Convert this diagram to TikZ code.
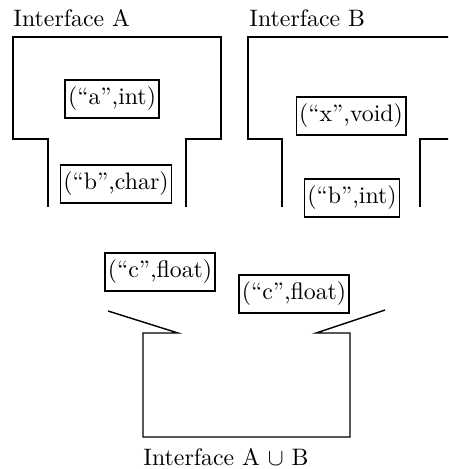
\documentclass[tikz,border=0pt]{standalone}
\usepackage{amssymb}
\begin{document}
\begin{tikzpicture}[x=0.42pt,y=-0.42pt,
  outline/.style={line width=0.6pt,line join=miter},
  pair/.style={draw,line width=0.6pt,inner xsep=1.2pt,inner ysep=3pt},
  title/.style={inner sep=0pt,anchor=base west}]
\clip (0,0) rectangle (448,469);
% titles
\node[title] (tA) at (13,27) {Interface A};
\node[title] (tB) at (249,27) {Interface B};
\node[title] (tU) at (143,465) {Interface A $\cup$ B};
% interface A outline
\draw[outline] (48,207) -- (48,139) -- (13,139) -- (13,37) -- (221,37) -- (221,139) -- (186,139) -- (186,207);
% interface B outline
\draw[outline] (282,207) -- (282,139) -- (248,139) -- (248,37) -- (460,37);
\draw[outline] (420,207) -- (420,139) -- (460,139);
% union outline
\draw[outline] (108,311) -- (178,333) -- (143,333) -- (143,437) -- (350,437) -- (350,333) -- (316,333) -- (385,310);
% pairs
\node[pair] (a) at (112,99) {(``a'',int)};
\node[pair] (bc) at (116,184) {(``b'',char)};
\node[pair] (x) at (351,116) {(``x'',void)};
\node[pair] (bi) at (352,198) {(``b'',int)};
\node[pair] (c1) at (160,272) {(``c'',float)};
\node[pair] (c2) at (294,294) {(``c'',float)};
\end{tikzpicture}
\end{document}
